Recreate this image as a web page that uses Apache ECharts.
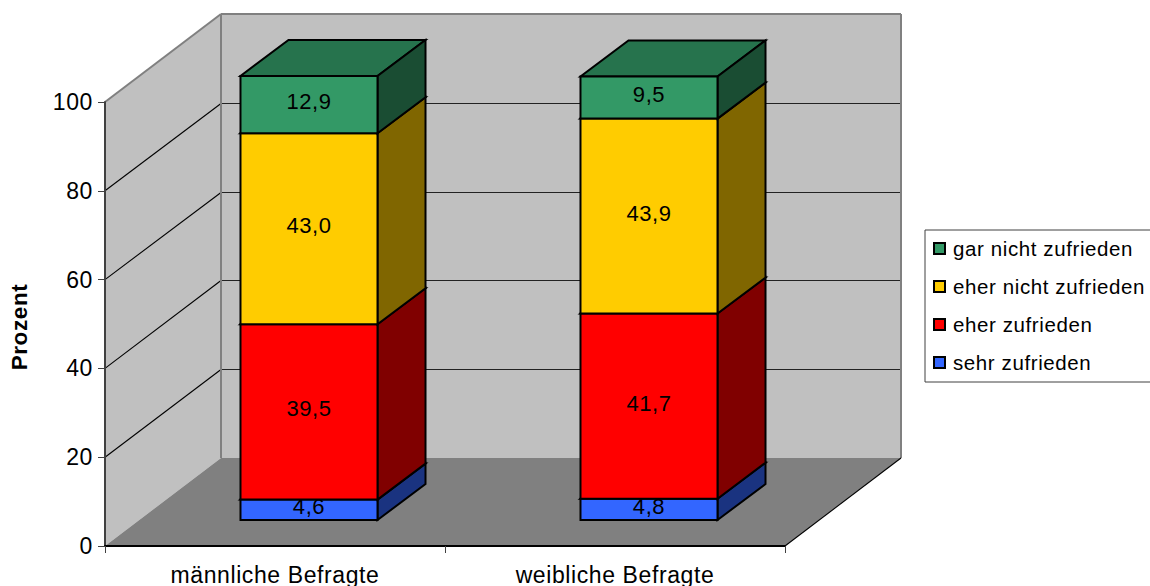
<!DOCTYPE html>
<html>
<head>
<meta charset="utf-8">
<style>
  html, body { margin: 0; padding: 0; background: #fff; overflow: hidden; }
  #chart { width: 1150px; height: 586px; }
  #chart text { letter-spacing: 0.6px; }
</style>
<script src="https://cdn.jsdelivr.net/npm/echarts@6/dist/echarts.min.js"></script>
</head>
<body>
<div id="chart"></div>
<script>
// Zufriedenheit nach Geschlecht, gestapelt in Prozent
const categories = ['männliche Befragte', 'weibliche Befragte'];
const sehrZufrieden = [4.6, 4.8];
const eherZufrieden = [39.5, 41.7];
const eherNichtZufrieden = [43.0, 43.9];
const garNichtZufrieden = [12.9, 9.5];
const seriesNames = ['sehr zufrieden', 'eher zufrieden', 'eher nicht zufrieden', 'gar nicht zufrieden'];
const yTicks = [0, 20, 40, 60, 80, 100];

const FONT = '"Liberation Sans", Arial, sans-serif';
const AXIS_SIZE = 23;
const VALUE_SIZE = 22;
const LEGEND_SIZE = 20.5;

// Pseudo-3D projection of the chart box and the columns
const BOX_DX = 116, BOX_DY = -88;
const BAR_DX = 48, BAR_DY = -36;
const BAR_SHIFT_X = 34, BAR_SHIFT_Y = -26;
const BAR_BAND_RATIO = 0.403;

const palette = [
  { front: '#3366FF', side: '#1A3380', top: '#264DBF' },
  { front: '#FF0000', side: '#800000', top: '#BF0000' },
  { front: '#FFCC00', side: '#806600', top: '#BF9900' },
  { front: '#339966', side: '#1A4D33', top: '#26734D' }
];

const columns = [sehrZufrieden, eherZufrieden, eherNichtZufrieden, garNichtZufrieden];

function stackedRows(level) {
  return categories.map((_, c) => {
    let base = 0;
    for (let i = 0; i < level; i++) base += columns[i][c];
    return [c, base, base + columns[level][c], columns[level][c]];
  });
}

function poly(points, fill, stroke, width) {
  return {
    type: 'polygon',
    shape: { points },
    style: { fill, stroke: stroke || 'none', lineWidth: width || 0 }
  };
}

function seg(x1, y1, x2, y2, stroke, width) {
  return {
    type: 'line',
    shape: { x1, y1, x2, y2 },
    style: { stroke, lineWidth: width || 1, fill: 'none' }
  };
}

// Walls, floor and grid lines of the box, scaled from the value axis
function renderBox(params, api) {
  const cs = params.coordSys;
  const left = cs.x, right = cs.x + cs.width;
  const y0 = api.coord([0, 0])[1];
  const y100 = api.coord([0, 100])[1];
  const children = [
    poly([[left, y100], [left + BOX_DX, y100 + BOX_DY], [left + BOX_DX, y0 + BOX_DY], [left, y0]], '#C0C0C0'),
    poly([[left + BOX_DX, y100 + BOX_DY], [right + BOX_DX, y100 + BOX_DY], [right + BOX_DX, y0 + BOX_DY], [left + BOX_DX, y0 + BOX_DY]], '#C0C0C0'),
    poly([[left, y0], [right, y0], [right + BOX_DX, y0 + BOX_DY], [left + BOX_DX, y0 + BOX_DY]], '#808080')
  ];
  yTicks.slice(1, -1).forEach(t => {
    const y = api.coord([0, t])[1];
    const yBack = Math.round(y + BOX_DY) + 0.5;
    children.push(seg(left, y, left + BOX_DX, yBack, '#000000', 1.1));
    children.push(seg(left + BOX_DX, yBack, right + BOX_DX, yBack, '#222222', 1));
  });
  children.push(seg(left, y100, left + BOX_DX, y100 + BOX_DY, '#808080', 2));
  children.push(seg(left + BOX_DX, y100 + BOX_DY, right + BOX_DX, y100 + BOX_DY, '#808080', 2));
  children.push(seg(left + BOX_DX, y100 + BOX_DY, left + BOX_DX, y0 + BOX_DY, '#808080', 2));
  children.push(seg(right + BOX_DX, y100 + BOX_DY, right + BOX_DX, y0 + BOX_DY, '#808080', 2));
  children.push(seg(right, y0, right + BOX_DX, y0 + BOX_DY, '#000000', 1.1));
  return { type: 'group', children };
}

// One stacked block: front face, right side, top and its value label
function renderBlock(level) {
  return function (params, api) {
    const colors = palette[level];
    const band = api.size([1, 0])[0];
    const w = band * BAR_BAND_RATIO;
    const cx = api.coord([api.value(0), 0])[0] + BAR_SHIFT_X;
    const yb = api.coord([api.value(0), api.value(1)])[1] + BAR_SHIFT_Y;
    const yt = api.coord([api.value(0), api.value(2)])[1] + BAR_SHIFT_Y;
    const x0 = cx - w / 2, x1 = cx + w / 2;
    const edge = '#000000', lw = 2;
    return {
      type: 'group',
      children: [
        poly([[x0, yt], [x1, yt], [x1 + BAR_DX, yt + BAR_DY], [x0 + BAR_DX, yt + BAR_DY]], colors.top, edge, lw),
        poly([[x1, yb], [x1 + BAR_DX, yb + BAR_DY], [x1 + BAR_DX, yt + BAR_DY], [x1, yt]], colors.side, edge, lw),
        poly([[x0, yb], [x1, yb], [x1, yt], [x0, yt]], colors.front, edge, lw),
        {
          type: 'text',
          style: {
            x: cx,
            y: (yb + yt) / 2 - 3,
            text: api.value(3).toFixed(1).replace('.', ','),
            fill: '#000000',
            font: VALUE_SIZE + 'px ' + FONT,
            align: 'center',
            verticalAlign: 'middle'
          }
        }
      ]
    };
  };
}

const series = [{
  type: 'custom',
  name: 'box',
  z: 1,
  silent: true,
  clip: false,
  coordinateSystem: 'cartesian2d',
  renderItem: renderBox,
  data: [[0, 0]],
  encode: { x: 0, y: 1 }
}].concat(seriesNames.map((name, level) => ({
  type: 'custom',
  name,
  z: 2 + level,
  silent: true,
  clip: false,
  coordinateSystem: 'cartesian2d',
  itemStyle: { color: palette[level].front },
  renderItem: renderBlock(level),
  data: stackedRows(level),
  encode: { x: 0, y: [1, 2] }
})));

const chart = echarts.init(document.getElementById('chart'), null, { renderer: 'svg' });
chart.setOption({
  animation: false,
  backgroundColor: '#ffffff',
  textStyle: { fontFamily: FONT },
  grid: { left: 105, right: 365, top: 102, bottom: 40, containLabel: false, outerBoundsMode: 'none' },
  legend: {
    orient: 'vertical',
    left: 925,
    top: 230,
    data: seriesNames.slice().reverse(),
    icon: 'rect',
    itemWidth: 11,
    itemHeight: 11,
    itemGap: 17,
    padding: [8, 60, 9, 8],
    borderColor: '#404040',
    borderWidth: 1,
    backgroundColor: '#ffffff',
    itemStyle: { borderColor: '#000000', borderWidth: 2 },
    selectedMode: false,
    textStyle: { fontSize: LEGEND_SIZE, color: '#000000', fontFamily: FONT, padding: [0, 0, 0, 3] }
  },
  xAxis: {
    type: 'category',
    data: categories,
    z: 8,
    axisLine: { lineStyle: { color: '#000000', width: 2 } },
    axisTick: { show: true, alignWithLabel: false, length: 7, lineStyle: { color: '#404040', width: 1 } },
    axisLabel: { fontSize: AXIS_SIZE, color: '#000000', margin: 17, fontFamily: FONT },
    splitLine: { show: false }
  },
  yAxis: {
    type: 'value',
    min: 0,
    max: 100,
    interval: 20,
    z: 8,
    name: 'Prozent',
    nameLocation: 'middle',
    nameGap: 74,
    nameRotate: 90,
    nameTextStyle: { fontSize: 22.5, fontWeight: 'bold', color: '#000000', fontFamily: FONT, padding: [0, 6, 0, 0] },
    axisLine: { show: true, lineStyle: { color: '#404040', width: 2 } },
    axisTick: { show: true, length: 7, lineStyle: { color: '#404040', width: 1 } },
    axisLabel: { fontSize: AXIS_SIZE, color: '#000000', margin: 12, fontFamily: FONT },
    splitLine: { show: false }
  },
  series
});
</script>
</body>
</html>
